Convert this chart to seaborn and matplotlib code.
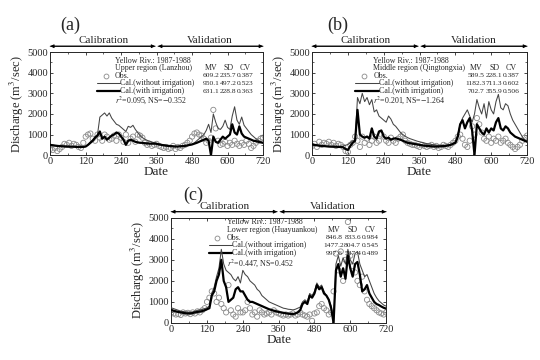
"""
Yellow River discharge: observed vs simulated (with / without irrigation), 1987-1988
"""
import numpy as np
import pandas as pd
import matplotlib
matplotlib.use('Agg')
import matplotlib.pyplot as plt
import seaborn as sns

sns.set_style("ticks")
plt.rcParams['font.family'] = ['Liberation Serif', 'DejaVu Serif']
plt.rcParams['mathtext.fontset'] = 'stix'
plt.rcParams['xtick.direction'] = 'in'
plt.rcParams['ytick.direction'] = 'in'

# --- data (every 8 days) ---
days = list(range(0, 721, 8))

# (a) upper region, Lanzhou
a_wo = [520, 500, 480, 470, 460, 450, 440, 430, 430, 420,
        420, 410, 410, 400, 400, 420, 520, 650, 750, 900,
        1000, 1850, 1950, 2050, 1900, 2050, 1800, 1650, 1500, 1450,
        1350, 1250, 1150, 1400, 1350, 1450, 1250, 1100, 950, 850,
        780, 720, 680, 640, 600, 580, 550, 520, 500, 480,
        460, 440, 430, 420, 420, 430, 440, 450, 460, 480,
        520, 600, 700, 800, 900, 1000, 1200, 1500, 1100, 2000,
        1600, 1300, 1250, 1400, 1700, 1350, 1250, 1900, 2350, 1700,
        1500, 1850, 1450, 1300, 1150, 1000, 900, 800, 720, 650,
        600]
a_with = [500, 480, 460, 450, 440, 430, 420, 420, 410, 410,
          410, 400, 400, 400, 400, 420, 500, 600, 700, 850,
          950, 1150, 800, 900, 750, 850, 950, 1000, 1100, 1050,
          900, 750, 500, 700, 750, 700, 650, 620, 600, 600,
          580, 570, 560, 560, 560, 550, 520, 500, 480, 460,
          450, 440, 430, 420, 420, 430, 440, 450, 470, 500,
          520, 560, 600, 650, 700, 750, 800, 700, 0, 900,
          650, 600, 750, 900, 800, 900, 1000, 1500, 1100, 1000,
          1400, 1050, 900, 850, 800, 750, 700, 680, 650, 620,
          600]
a_obs = [300, 250, 350, 200, 300, 400, 550, 500, 600, 450,
         550, 500, 400, 350, 600, 900, 1000, 1050, 800, 700,
         1000, 850, 700, 1000, 900, 750, 800, 950, 700, 1000,
         850, 650, 1000, 600, 800, 900, 650, 1000, 950, 850,
         600, 500, 550, 450, 500, 550, 450, 400, 350, 400,
         300, 350, 450, 300, 400, 350, 450, 500, 600, 700,
         900, 1050, 1100, 1000, 950, 800, 600, 700, 850, 2200,
         1300, 700, 500, 550, 650, 450, 600, 500, 700, 550,
         450, 600, 500, 700, 550, 350, 450, 600, 700, 800,
         850]

# (b) middle region, Qingtongxia
b_wo = [500, 480, 470, 450, 440, 430, 420, 410, 410, 400,
        400, 400, 420, 440, 480, 520, 600, 700, 700, 2800,
        2500, 3000, 2600, 2800, 2450, 2700, 2100, 2200, 1900, 1800,
        1700, 1600, 1900, 1750, 1500, 1400, 1250, 1100, 1000, 920,
        850, 800, 760, 720, 680, 650, 620, 590, 560, 540,
        520, 500, 490, 480, 470, 470, 480, 500, 520, 560,
        650, 1000, 1500, 1800, 2000, 2200, 1900, 1600, 2000, 2700,
        2300, 2000, 2500, 1800, 2600, 2200, 2000, 2600, 2950, 2300,
        2200, 2500, 2400, 2000, 1700, 1500, 1300, 1100, 900, 750,
        680]
b_with = [520, 500, 480, 460, 450, 440, 430, 420, 420, 410,
          410, 400, 400, 380, 300, 250, 450, 600, 700, 2200,
          1000, 900, 850, 900, 800, 1300, 900, 800, 1150, 1200,
          900, 800, 850, 750, 800, 820, 780, 750, 700, 650,
          600, 580, 560, 540, 520, 500, 480, 460, 450, 440,
          430, 420, 420, 420, 430, 440, 450, 470, 500, 550,
          600, 900, 1500, 1700, 1300, 1600, 1800, 1200, 0, 1500,
          1300, 1100, 1000, 1300, 1100, 1300, 1200, 1600, 1800, 1300,
          1200, 1400, 1300, 1100, 1000, 900, 850, 800, 750, 700,
          650]
b_obs = [450, 550, 400, 650, 500, 600, 550, 650, 500, 600,
         450, 550, 500, 400, 200, 150, 500, 600, 900, 700,
         400, 900, 600, 800, 500, 700, 900, 600, 700, 1000,
         900, 700, 600, 850, 700, 600, 800, 900, 1000, 700,
         600, 550, 500, 500, 450, 400, 500, 450, 400, 450,
         500, 400, 450, 350, 400, 500, 450, 400, 500, 600,
         700, 900, 1000, 800, 500, 400, 700, 1400, 1000, 1800,
         1500, 1100, 800, 700, 900, 600, 800, 700, 900, 600,
         700, 800, 600, 500, 400, 300, 400, 500, 700, 850,
         950]

# (c) lower region, Huayuankou
c_wo = [720, 680, 640, 600, 560, 540, 520, 510, 500, 520,
        560, 600, 620, 640, 680, 720, 800, 1400, 1700, 2200,
        2600, 3500, 2800, 2500, 2400, 2300, 2100, 2000, 2200, 1900,
        2500, 2300, 2200, 2000, 1900, 1800, 1600, 1500, 1300, 1200,
        1100, 1000, 950, 900, 850, 800, 750, 700, 680, 650,
        640, 620, 650, 700, 750, 1000, 1100, 1000, 1400, 1300,
        1500, 1900, 1700, 1800, 1500, 1300, 1100, 800, 0, 2800,
        3200, 2700, 3100, 2800, 3500, 3000, 2800, 3300, 3400, 2800,
        2500, 2200, 2300, 2000, 1700, 1400, 1200, 1050, 950, 850,
        800]
c_with = [620, 580, 550, 520, 500, 480, 460, 450, 450, 470,
          500, 520, 540, 560, 600, 650, 700, 1300, 1500, 2000,
          2300, 3000, 2000, 1700, 1000, 1100, 1200, 1600, 1700, 1500,
          1500, 1300, 1100, 1000, 1000, 950, 900, 850, 800, 750,
          700, 650, 620, 580, 550, 520, 500, 480, 460, 440,
          430, 420, 450, 500, 600, 900, 1000, 900, 1300, 1200,
          1400, 1800, 1600, 1700, 1400, 1300, 1100, 700, 0, 2500,
          2800, 2200, 2600, 2100, 3200, 2600, 2200, 2800, 2900, 2300,
          1500, 1600, 1800, 1400, 1200, 1000, 900, 850, 780, 720,
          680]
c_obs = [500, 450, 400, 420, 380, 500, 450, 480, 420, 500,
         450, 550, 500, 600, 700, 1000, 1200, 1500, 1400, 1000,
         1200, 900, 700, 500, 1800, 600, 400, 300, 700, 500,
         500, 600, 1000, 700, 400, 500, 300, 600, 500, 400,
         450, 500, 400, 600, 500, 450, 400, 350, 400, 350,
         400, 450, 350, 400, 500, 400, 350, 300, 400, 100,
         450, 500, 800, 900, 700, 600, 400, 500, 1500, 3300,
         2500, 3400, 2000, 3000, 4800, 3200, 2700, 2400, 2000, 1800,
         2200, 1500, 1100, 900, 800, 700, 600, 500, 450, 400,
         500]

panels = [
    dict(tag='(a)', region='Upper region (Lanzhou)', wo=a_wo, wi=a_with, obs=a_obs,
         stats=[('609.2', '235.7', '0.387'), ('950.1', '497.2', '0.523'), ('631.1', '228.8', '0.363')],
         fit='$r^2$=0.095, NS=$-$0.352'),
    dict(tag='(b)', region='Middle region (Qingtongxia)', wo=b_wo, wi=b_with, obs=b_obs,
         stats=[('589.5', '228.1', '0.387'), ('1182.3', '711.3', '0.602'), ('702.7', '355.9', '0.506')],
         fit='$r^2$=0.201, NS=$-$1.264'),
    dict(tag='(c)', region='Lower region (Huayuankou)', wo=c_wo, wi=c_with, obs=c_obs,
         stats=[('846.8', '833.6', '0.984'), ('1477.2', '804.7', '0.545'), ('997.6', '587.4', '0.489')],
         fit='$r^2$=0.447, NS=0.452'),
]

# axes rectangles [left, bottom, width, height] and label positions
rects = [[0.093, 0.569, 0.394, 0.286],
         [0.578, 0.569, 0.398, 0.286],
         [0.317, 0.103, 0.398, 0.292]]
tag_pos = [(0.13, 0.93), (0.626, 0.93), (0.357, 0.458)]
txt_x = [0.305, 0.285, 0.26]
col_x = [(0.758, 0.838, 0.915), (0.762, 0.847, 0.926), (0.758, 0.844, 0.924)]
row_y = [[0.915, 0.848, 0.773, 0.698, 0.623, 0.53],
         [0.915, 0.848, 0.773, 0.698, 0.623, 0.53],
         [0.958, 0.884, 0.812, 0.738, 0.664, 0.572]]

fig = plt.figure(figsize=(5.4, 3.6), dpi=100)
fs_txt = 5.7
fs_num = 5.4

for i, p in enumerate(panels):
    ax = fig.add_axes(rects[i])
    df = pd.DataFrame({'day': days, 'wo': p['wo'], 'wi': p['wi'], 'obs': p['obs']})

    sns.scatterplot(data=df, x='day', y='obs', ax=ax, marker='o', s=14,
                    facecolors='none', edgecolor='#8a8a8a', linewidth=0.6, zorder=2)
    sns.lineplot(data=df, x='day', y='wo', ax=ax, color='#444444', lw=0.75, zorder=3)
    sns.lineplot(data=df, x='day', y='wi', ax=ax, color='black', lw=1.6, zorder=4)

    ax.set_xlim(0, 720)
    ax.set_ylim(0, 5000)
    ax.set_xticks(range(0, 721, 120))
    ax.set_xticks(range(0, 721, 60), minor=True)
    ax.set_yticks(range(0, 5001, 1000))
    ax.set_yticks(range(0, 5001, 500), minor=True)
    ax.tick_params(which='both', top=True, right=True, labelsize=7.5, pad=1.5)
    ax.tick_params(which='major', length=2.5, width=0.6)
    ax.tick_params(which='minor', length=1.5, width=0.5)
    for s in ax.spines.values():
        s.set_linewidth(0.7)
    ax.set_xlabel('Date', fontsize=9.5, labelpad=0)
    ax.set_ylabel('Discharge (m$^3$/sec)', fontsize=9, labelpad=1)

    # calibration / validation arrows (double headed)
    tr = ax.get_xaxis_transform()
    for a, b in [(0, 355), (355, 0), (365, 720), (720, 365)]:
        ax.annotate('', xy=(a, 1.058), xytext=(b, 1.058), xycoords=tr, textcoords=tr,
                    arrowprops=dict(arrowstyle='-|>', lw=0.7, color='black',
                                    mutation_scale=5, shrinkA=0, shrinkB=0),
                    annotation_clip=False)
    ax.text(180, 1.11, 'Calibration', transform=tr, ha='center', va='center', fontsize=8)
    ax.text(540, 1.11, 'Validation', transform=tr, ha='center', va='center', fontsize=8)

    # legend block
    T = ax.transAxes
    x0 = txt_x[i]
    ry = row_y[i]
    ax.text(x0, ry[0], 'Yellow Riv.: 1987-1988', transform=T, fontsize=fs_txt, va='center')
    ax.text(x0, ry[1], p['region'], transform=T, fontsize=fs_txt, va='center')
    for h, cx in zip(['MV', 'SD', 'CV'], col_x[i]):
        ax.text(cx, ry[1], h, transform=T, fontsize=fs_txt, va='center', ha='center')
    lx0, lx1 = x0 - 0.085, x0 + 0.025
    ax.plot([x0 - 0.045], [ry[2]], transform=T, marker='o', ms=3.5,
            mfc='none', mec='#8a8a8a', mew=0.6, ls='none')
    ax.text(x0, ry[2], 'Obs.', transform=T, fontsize=fs_txt, va='center')
    ax.plot([lx0, lx1], [ry[3], ry[3]], transform=T, color='#444444', lw=0.75)
    ax.text(lx1, ry[3], 'Cal.(without irrigation)', transform=T, fontsize=fs_txt, va='center')
    ax.plot([lx0, lx1], [ry[4], ry[4]], transform=T, color='black', lw=1.6)
    ax.text(lx1, ry[4], 'Cal.(with irrigation)', transform=T, fontsize=fs_txt, va='center')
    for row, vals in zip(ry[2:5], p['stats']):
        for v, cx in zip(vals, col_x[i]):
            ax.text(cx, row, v, transform=T, fontsize=fs_num, va='center', ha='center')
    ax.text(x0, ry[5], p['fit'], transform=T, fontsize=fs_txt, va='center')

    fig.text(tag_pos[i][0], tag_pos[i][1], p['tag'], fontsize=13, ha='center', va='center')

fig.savefig('out.png', dpi=100)
